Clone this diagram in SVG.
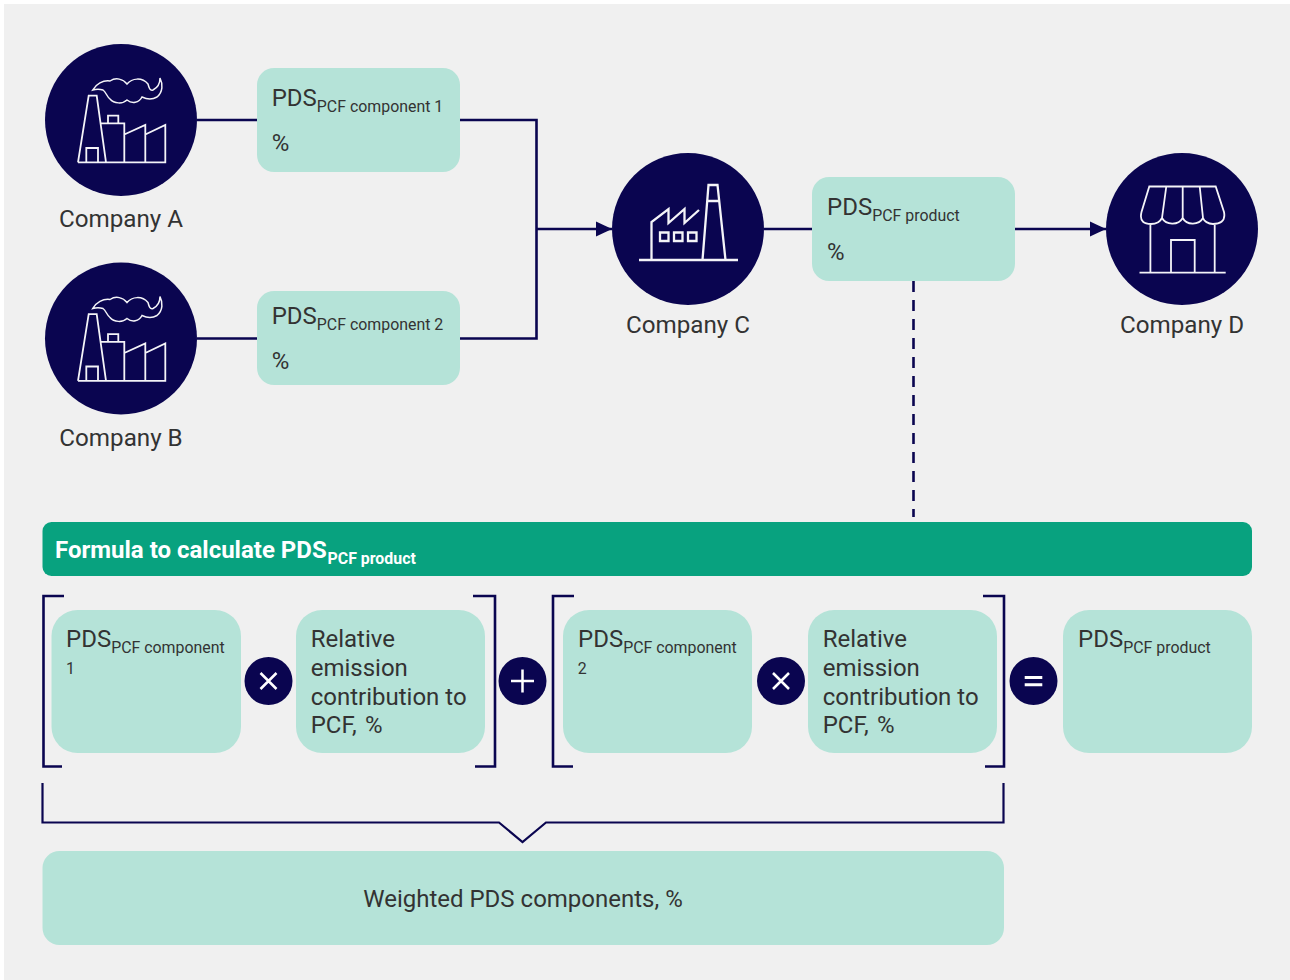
<svg xmlns="http://www.w3.org/2000/svg" width="1290" height="980" viewBox="0 0 1290 980">
<style>
text{font-family:Roboto,"Liberation Sans",sans-serif;fill:#333;font-size:24px}
.s{font-size:15.900px}
.c{fill:#0a0550}
.b{fill:#b5e3d8}
.i{fill:none;stroke:#f4f4f8;stroke-width:1.800px;stroke-linejoin:miter}
.l{fill:none;stroke:#0a0550;stroke-width:2.600px}
.o{fill:none;stroke:#fff;stroke-width:2.500px}
.n{font-size:24.200px}
</style>
<defs>
<marker id="ah" markerUnits="userSpaceOnUse" markerWidth="16" markerHeight="16" refX="16" refY="8" orient="auto"><path d="M0,0.5L16,8L0,15.5Z" fill="#0a0550"/></marker>
<g id="plant">
<path class="i" d="M78,162.300L88.700,95.700H96.700L106,162.300M78,162.300H165.300V125L145.300,134.500V162.300M145.300,134.500V125L124.300,134.500V162.300M124.300,134.500V123.300H101.300M86.300,162.300V148H98V162.300M108,123.300V115.700H118.300V123.300"/>
<path class="i" style="stroke-width:1.500px" d="M92.700,90C96,84 103,80 110,81C116,77 123,79 127,84C132,78 142,77 148,84C149,88 150,91 153,90C157,88 160,84 160,78C163,84 163,92 157,97C152,100 148,100 142,97C139,103 132,104 127,100C123,104 114,104 110,99C107,97 106,92 103,90C100,89 96,89 92.700,90Z"/>
</g>
</defs>
<rect x="4" y="4" width="1286" height="976" fill="#f0f0f0"/>
<g id="connectors">
<path class="l" d="M197,120H257M460,120H536.500V338.500H460M197,338.500H257"/>
<path class="l" d="M536.500,229H612" marker-end="url(#ah)"/>
<path class="l" d="M764,229H812"/>
<path class="l" d="M1015,229H1106" marker-end="url(#ah)"/>
<path class="l" stroke-dasharray="11 8" d="M913.500,281V517"/>
</g>
<g id="company-a"><circle class="c" cx="121" cy="120" r="76"/><use href="#plant"/><text class="n" x="121" y="227" text-anchor="middle">Company A</text></g>
<g id="company-b"><circle class="c" cx="121" cy="338.500" r="76"/><use href="#plant" y="218.500"/><text class="n" x="121" y="446" text-anchor="middle">Company B</text></g>
<g id="company-c"><circle class="c" cx="688" cy="229" r="76"/>
<path class="i" style="stroke-width:2.300px" d="M639,260H738M651.500,260V222L668.500,209V223L684.500,209V223L699,210M702.500,260L708.500,185H717.500L725.500,260M707,201H719.500M660,232.500H668.500V241H660ZM674,232.500H682.500V241H674ZM688,232.500H696.500V241H688Z"/>
<text class="n" x="688" y="333" text-anchor="middle">Company C</text></g>
<g id="company-d"><circle class="c" cx="1182" cy="229" r="76"/>
<path class="i" d="M1139.500,272.700H1225.700M1150.400,224V272.700M1214.700,224V272.700M1171,272.700V240H1194.700V272.700M1149.300,186.500H1215.700L1224,212C1226,222 1219,224 1213,224C1208,224 1204,221 1203,218C1199,225 1187,226 1182.700,218C1178,226 1166,225 1162,218C1160,222 1156,224 1151,224C1145,224 1139,222 1141.500,212ZM1166.300,186.500L1162,218M1182.700,186.500V218M1199.700,186.500L1203,218"/>
<text class="n" x="1182" y="333" text-anchor="middle">Company D</text></g>
<g id="pds-1"><rect class="b" x="257" y="68" width="203" height="104" rx="17"/><text x="271.700" y="106">PDS<tspan class="s" dy="6">PCF component 1</tspan></text><text x="271.700" y="151">%</text></g>
<g id="pds-2"><rect class="b" x="257" y="291" width="203" height="94" rx="17"/><text x="271.700" y="324">PDS<tspan class="s" dy="6">PCF component 2</tspan></text><text x="271.700" y="369">%</text></g>
<g id="pds-product"><rect class="b" x="812" y="177" width="203" height="104" rx="17"/><text x="827" y="215">PDS<tspan class="s" dy="6">PCF product</tspan></text><text x="827" y="260">%</text></g>
<g id="formula-title"><rect x="42.500" y="522" width="1209.500" height="54" rx="9" fill="#08a27f"/><text x="55" y="558" font-weight="700" style="fill:#fff">Formula to calculate PDS<tspan class="s" dy="6" x="327.500">PCF product</tspan></text></g>
<g id="brackets">
<path class="l" d="M64,596H43.500V766.500H62M473,596H495V766.500H475M574,596H553V766.500H573M983,596H1004V766.500H985"/>
<path class="l" style="stroke-width:2.200px" d="M42.500,783V822.500H499L522.500,842L546,822.500H1003.500V783"/>
</g>
<g id="f1"><rect class="b" x="51.500" y="610" width="189.500" height="143" rx="26"/><text x="66" y="647">PDS<tspan class="s" dy="6">PCF component</tspan></text><text class="s" x="66" y="674">1</text></g>
<g id="f2"><rect class="b" x="296" y="610" width="189" height="143" rx="26"/><text x="310.700" y="647">Relative</text><text x="310.700" y="676">emission</text><text x="310.700" y="705">contribution to</text><text x="310.700" y="733">PCF, <tspan x="365">%</tspan></text></g>
<g id="f3"><rect class="b" x="563" y="610" width="189" height="143" rx="26"/><text x="578" y="647">PDS<tspan class="s" dy="6">PCF component</tspan></text><text class="s" x="577.700" y="674">2</text></g>
<g id="f4"><rect class="b" x="808" y="610" width="189" height="143" rx="26"/><text x="822.700" y="647">Relative</text><text x="822.700" y="676">emission</text><text x="822.700" y="705">contribution to</text><text x="822.700" y="733">PCF, <tspan x="877">%</tspan></text></g>
<g id="f5"><rect class="b" x="1063" y="610" width="189" height="143" rx="26"/><text x="1078" y="647">PDS<tspan class="s" dy="6">PCF product</tspan></text></g>
<g id="op-times-1"><circle class="c" cx="268.500" cy="681" r="24"/><path class="o" d="M260.500,673L276.500,689M276.500,673L260.500,689"/></g>
<g id="op-plus"><circle class="c" cx="522.500" cy="681" r="24"/><path class="o" d="M511,681H534M522.500,669.500V692.500"/></g>
<g id="op-times-2"><circle class="c" cx="781" cy="681" r="24"/><path class="o" d="M773,673L789,689M789,673L773,689"/></g>
<g id="op-equals"><circle class="c" cx="1033.500" cy="681" r="24"/><path class="o" style="stroke-width:3px" d="M1024.700,677.500H1042.300M1024.700,684.800H1042.300"/></g>
<g id="weighted"><rect class="b" x="42.500" y="851" width="961.500" height="94" rx="17"/><text x="523" y="907" text-anchor="middle">Weighted PDS components, %</text></g>
</svg>
